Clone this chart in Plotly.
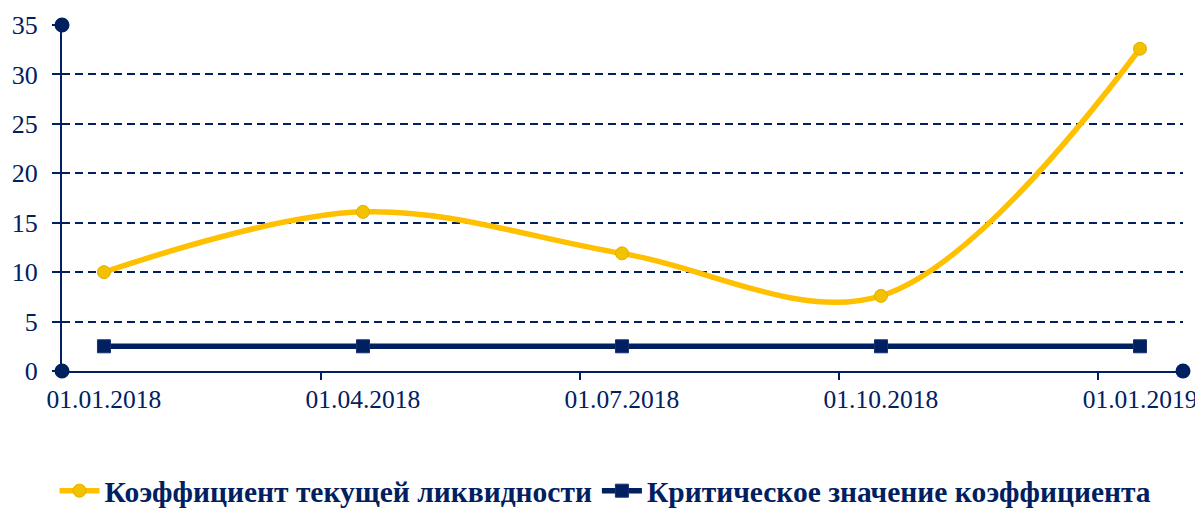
import plotly.graph_objects as go

categories = ["01.01.2018", "01.04.2018", "01.07.2018", "01.10.2018", "01.01.2019"]
current_ratio = [10.0, 16.1, 11.9, 7.6, 32.6]
critical_value = [2.5, 2.5, 2.5, 2.5, 2.5]
y_ticks = [0, 5, 10, 15, 20, 25, 30, 35]

NAVY = "#002060"
YELLOW = "#FFC000"
FONT = "Times New Roman, Liberation Serif, serif"

xs = list(range(len(categories)))
x_lo, x_hi = -0.162, len(categories) - 1 + 0.166

fig = go.Figure()
fig.add_trace(go.Scatter(
    x=xs, y=current_ratio, mode="lines+markers",
    name="Коэффициент текущей ликвидности",
    line=dict(color=YELLOW, width=5.5, shape="spline", smoothing=1.0),
    marker=dict(symbol="circle", size=13, color="#F2C200",
                line=dict(color="#E0B000", width=1)),
))
fig.add_trace(go.Scatter(
    x=xs, y=critical_value, mode="lines+markers",
    name="Критическое значение коэффициента",
    line=dict(color=NAVY, width=5.5),
    marker=dict(symbol="square", size=13, color=NAVY,
                line=dict(color="#1a2f70", width=1)),
))

# page body has an 8px default margin: size the figure so the plot area lands where
# the reference has it without making the page scroll
fig.update_layout(
    width=1195, height=509,
    margin=dict(l=54, r=20, t=17, b=146, autoexpand=False),
    paper_bgcolor="white", plot_bgcolor="white",
    font=dict(family=FONT, color=NAVY, size=26),
    showlegend=True,
    legend=dict(orientation="h", x=0.5, xanchor="center", xref="container",
                y=0.0, yanchor="bottom", yref="container",
                font=dict(family=FONT, size=29.5, color=NAVY, weight="bold"),
                itemwidth=40, tracegroupgap=0),
)

fig.update_xaxes(
    range=[x_lo, x_hi], automargin=False,
    tickmode="array", tickvals=xs, ticktext=categories,
    ticks="", showgrid=False, zeroline=False, ticklabelstandoff=4,
    showline=True, linecolor=NAVY, linewidth=2,
    tickfont=dict(family=FONT, size=25.5, color=NAVY),
    minor=dict(tickmode="array", tickvals=[i + x_lo for i in range(1, len(categories))],
               ticks="outside", ticklen=7, tickwidth=2, tickcolor=NAVY, showgrid=False),
)
fig.update_yaxes(
    range=[0, 35], tickmode="array", tickvals=y_ticks, automargin=False,
    ticks="outside", ticklen=8, tickwidth=2, tickcolor=NAVY, ticklabelstandoff=9,
    showgrid=True, gridcolor=NAVY, gridwidth=1.6, griddash="8px,5px",
    zeroline=False, showline=True, linecolor=NAVY, linewidth=2,
    tickfont=dict(family=FONT, size=26, color=NAVY),
)

# round end caps on the axes
for (px, py) in [(0, 0), (0, 1), (1, 0)]:
    fig.add_shape(type="circle", xref="paper", yref="paper",
                  xsizemode="pixel", ysizemode="pixel",
                  xanchor=px, yanchor=py, x0=-7.5, x1=7.5, y0=-7.5, y1=7.5,
                  fillcolor=NAVY, line=dict(width=0), layer="above")

fig.write_html("out.html")
